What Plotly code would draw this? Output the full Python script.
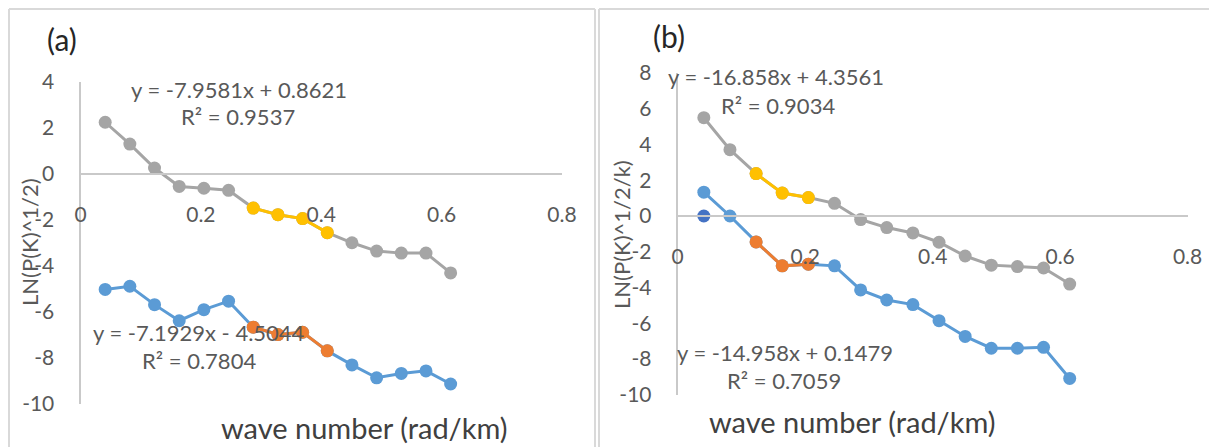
import plotly.graph_objects as go

# ---------------- data ----------------
wave_number = [0.041, 0.082, 0.123, 0.164, 0.205, 0.246, 0.287, 0.328,
               0.369, 0.410, 0.451, 0.492, 0.533, 0.574, 0.615]

a_gray = [2.25, 1.30, 0.26, -0.54, -0.62, -0.71, -1.48, -1.77, -1.94, -2.55,
          -2.99, -3.35, -3.44, -3.44, -4.30]
a_blue = [-5.02, -4.88, -5.68, -6.38, -5.90, -5.53, -6.66, -6.98, -6.88, -7.69,
          -8.30, -8.86, -8.67, -8.56, -9.13]
a_fit_idx = [6, 7, 8, 9]

b_gray = [5.50, 3.71, 2.37, 1.28, 1.03, 0.71, -0.20, -0.65, -0.95, -1.47,
          -2.24, -2.75, -2.83, -2.91, -3.81]
b_blue = [1.33, 0.00, -1.45, -2.79, -2.70, -2.79, -4.14, -4.70, -4.96, -5.86,
          -6.74, -7.40, -7.40, -7.35, -9.09]
b_fit_idx = [2, 3, 4]
b_single_x = [0.041]
b_single_y = [0.0]

x_ticks = [0, 0.2, 0.4, 0.6, 0.8]
x_ticktext = ["0", "0.2", "0.4", "0.6", "0.8"]
a_yticks = [-10, -8, -6, -4, -2, 0, 2, 4]
a_yticktext = ["-10", "-8", "-6", "-4", "-2", "0", "2", "4"]
b_yticks = [-10, -8, -6, -4, -2, 0, 2, 4, 6, 8]
b_yticktext = ["-10", "-8", "-6", "-4", "-2", "0", "2", "4", "6", "8"]
a_yrange = [-10, 4]
b_yrange = [-10, 8]

panel_labels = ["(a)", "(b)"]
y_titles = ["LN(P(K)^1/2)", "LN(P(K)^1/2/k)"]
x_title = "wave number (rad/km)"
a_eq_upper = ["y = -7.9581x + 0.8621", "R² = 0.9537"]
a_eq_lower = ["y = -7.1929x - 4.5044", "R² = 0.7804"]
b_eq_upper = ["y = -16.858x + 4.3561", "R² = 0.9034"]
b_eq_lower = ["y = -14.958x + 0.1479", "R² = 0.7059"]

# ---------------- style ----------------
OFF = 8                      # page body margin of the HTML document
W, H = 1217 - OFF, 447 - OFF
FONT = "Lato"
GRAY = "#A5A5A5"
YELLOW = "#FFC000"
BLUE = "#5B9BD5"
ORANGE = "#ED7D31"
DARKBLUE = "#4472C4"
AXIS = "#C9C9C9"
TXT = "#595959"
MS = 13
LW = 3


def px(x):
    return (x - OFF) / W


def py(y):
    return 1 - (y - OFF) / H


fig = go.Figure()


def add_line(x, y, color, xa, ya, mode="lines+markers"):
    fig.add_trace(go.Scatter(
        x=x, y=y, mode=mode, xaxis=xa, yaxis=ya,
        line=dict(color=color, width=LW),
        marker=dict(color=color, size=MS),
        showlegend=False, hoverinfo="x+y", cliponaxis=False))


# panel a
add_line(wave_number, a_gray, GRAY, "x", "y")
add_line([wave_number[i] for i in a_fit_idx], [a_gray[i] for i in a_fit_idx], YELLOW, "x", "y")
add_line(wave_number, a_blue, BLUE, "x", "y")
add_line([wave_number[i] for i in a_fit_idx], [a_blue[i] for i in a_fit_idx], ORANGE, "x", "y")

# panel b
add_line(wave_number, b_gray, GRAY, "x2", "y2")
add_line([wave_number[i] for i in b_fit_idx], [b_gray[i] for i in b_fit_idx], YELLOW, "x2", "y2")
add_line(b_single_x, b_single_y, DARKBLUE, "x2", "y2", mode="markers")
add_line(wave_number, b_blue, BLUE, "x2", "y2")
add_line([wave_number[i] for i in b_fit_idx], [b_blue[i] for i in b_fit_idx], ORANGE, "x2", "y2")

# axis geometry (reference pixels)
a_dom_x = [px(80.5), px(562)]
a_dom_y = [py(404), py(82)]
b_dom_x = [px(677.7), px(1187.6)]
b_dom_y = [py(394.7), py(73)]


def zero_pos(dom, rng):
    return dom[0] + (0 - rng[0]) / (rng[1] - rng[0]) * (dom[1] - dom[0])


tickfont = dict(family=FONT, size=21, color=TXT)

common_x = dict(range=[0, 0.8], tickvals=x_ticks, ticktext=x_ticktext,
                showgrid=False, zeroline=False, showline=True, linecolor=AXIS,
                linewidth=2, ticks="", tickfont=tickfont, ticklabelstandoff=22,
                anchor="free", fixedrange=True, automargin=False)
common_y = dict(showgrid=False, zeroline=False, showline=True,
                linecolor=AXIS, linewidth=2, ticks="", tickfont=tickfont,
                ticklabelstandoff=20, fixedrange=True, automargin=False)

fig.update_layout(
    template="none",
    width=W, height=H,
    margin=dict(l=0, r=0, t=0, b=0, autoexpand=False),
    paper_bgcolor="white", plot_bgcolor="white",
    font=dict(family=FONT, color=TXT),
    xaxis=dict(domain=a_dom_x, position=zero_pos(a_dom_y, a_yrange), **common_x),
    yaxis=dict(domain=a_dom_y, range=a_yrange, anchor="x",
               tickvals=a_yticks, ticktext=a_yticktext, **common_y),
    xaxis2=dict(domain=b_dom_x, position=zero_pos(b_dom_y, b_yrange), **common_x),
    yaxis2=dict(domain=b_dom_y, range=b_yrange, anchor="x2",
                tickvals=b_yticks, ticktext=b_yticktext, **common_y),
)

# panel borders
border = dict(color="#D9D9D9", width=2)
for x0, x1 in [(9, 595), (599, 1230)]:
    fig.add_shape(type="line", xref="paper", yref="paper",
                  x0=px(x0), x1=px(x1), y0=py(9), y1=py(9), line=border)
    fig.add_shape(type="line", xref="paper", yref="paper",
                  x0=px(x0), x1=px(x0), y0=py(9), y1=py(460), line=border)
fig.add_shape(type="line", xref="paper", yref="paper",
              x0=px(595), x1=px(595), y0=py(9), y1=py(460), line=border)


def ann(text, x, y, size, color=TXT, angle=0):
    fig.add_annotation(text=text, xref="paper", yref="paper", x=px(x), y=py(y),
                       xanchor="center", yanchor="middle", showarrow=False,
                       textangle=angle, font=dict(family=FONT, size=size, color=color))


# panel labels
ann(panel_labels[0], 62, 39, 30, "#262626")
ann(panel_labels[1], 669, 36, 30, "#262626")
# axis titles
ann(y_titles[0], 29, 242, 22, TXT, -90)
ann(y_titles[1], 621, 235, 22, TXT, -90)
ann(x_title, 364, 427, 29, "#404040")
ann(x_title, 852, 421, 29, "#404040")
# trendline equations
ann(a_eq_upper[0], 239, 89, 22)
ann(a_eq_upper[1], 238, 117, 22)
ann(a_eq_lower[0], 199, 332, 22)
ann(a_eq_lower[1], 199, 360, 22)
ann(b_eq_upper[0], 776, 77, 22)
ann(b_eq_upper[1], 778, 105, 22)
ann(b_eq_lower[0], 785, 352, 22)
ann(b_eq_lower[1], 784, 380, 22)

fig.write_html("out.html")
